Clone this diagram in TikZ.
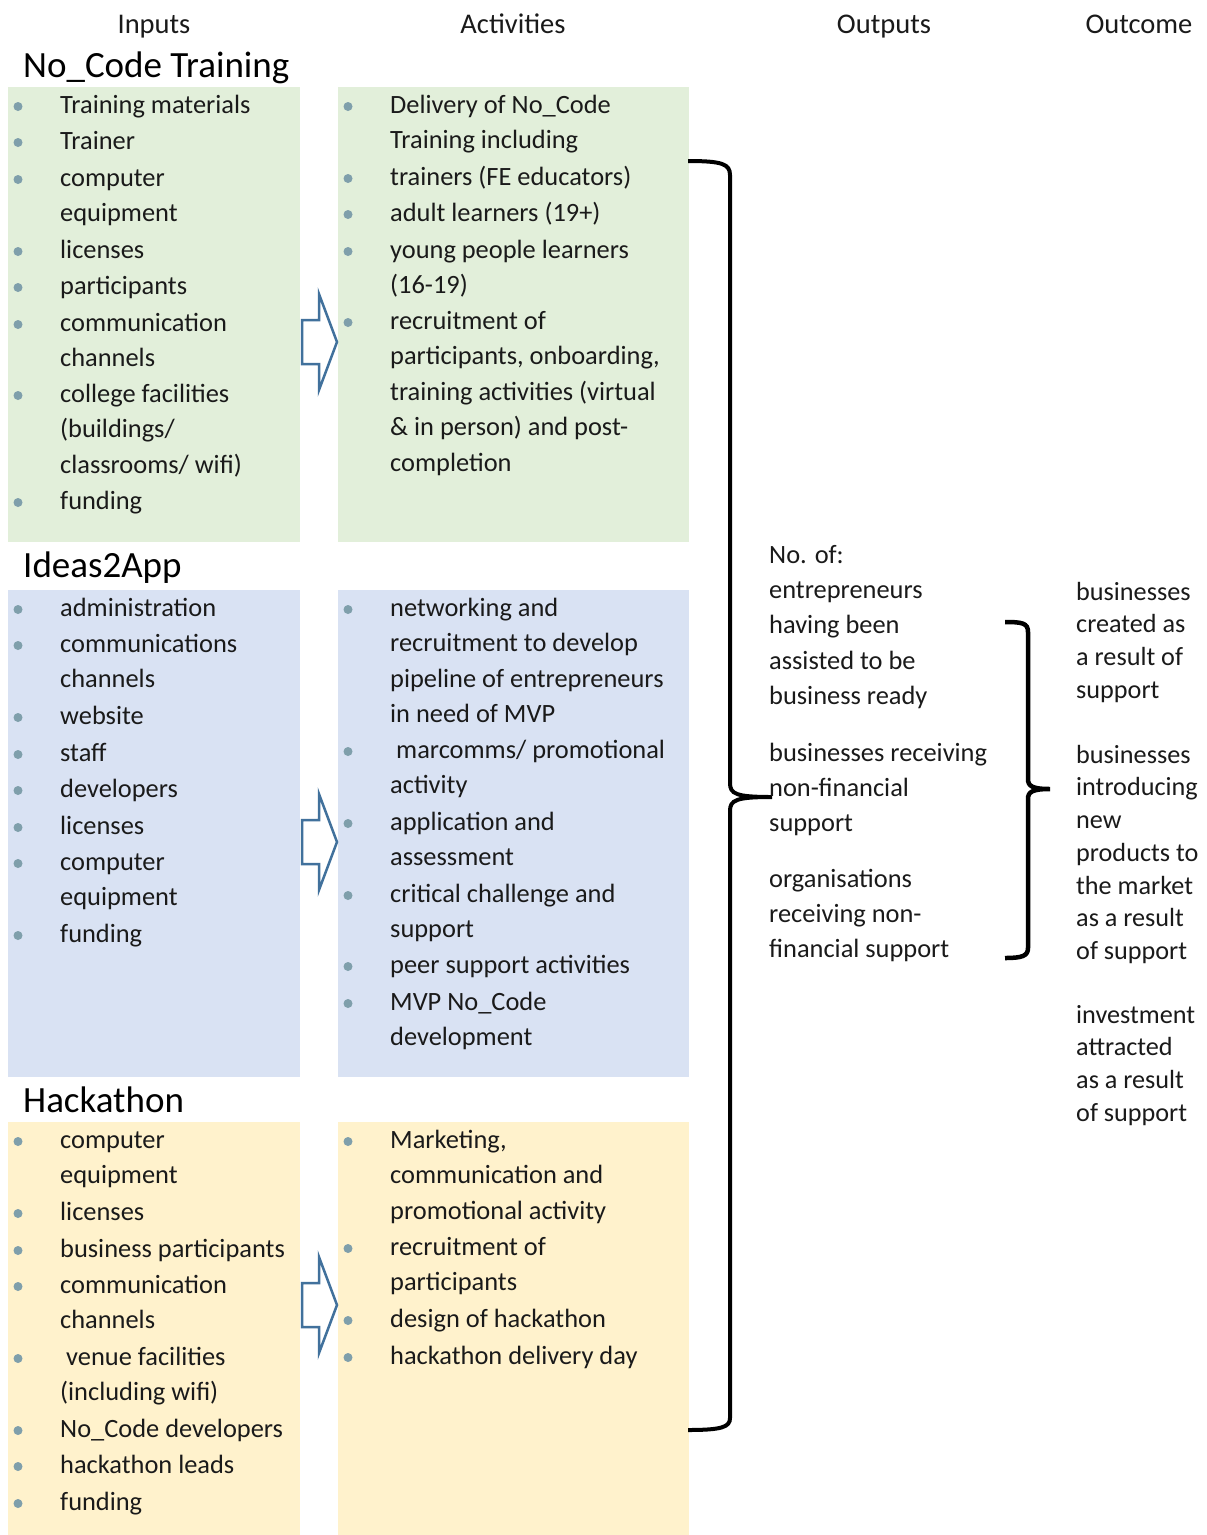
\documentclass[tikz,border=0pt]{standalone}
\usepackage{fontspec}
\setmainfont{Carlito}
\usetikzlibrary{positioning}

\definecolor{nocodegreen}{HTML}{E2EFDA}
\definecolor{ideasblue}{HTML}{D9E2F3}
\definecolor{hackyellow}{HTML}{FFF2CC}
\definecolor{bulletgray}{HTML}{7F9FAB}
\definecolor{arrowblue}{HTML}{41719C}
\definecolor{txt}{HTML}{1A1A1A}

\tikzset{
  colhead/.style={anchor=base, inner sep=0pt, text=txt, font=\fontsize{28.5}{34}\selectfont},
  section/.style={anchor=base west, inner sep=0pt, text=black, font=\fontsize{37}{44}\selectfont},
  panel/.style={anchor=north west, inner sep=0pt, draw=none},
  bul/.style={circle, fill=bulletgray, inner sep=0pt, minimum size=9pt},
  entry/.style={anchor=north west, inner sep=0pt, align=left, text=txt, font=\fontsize{26.4}{35.5}\selectfont},
  outtext/.style={anchor=north west, inner sep=0pt, align=left, text=txt, font=\fontsize{26.4}{35.3}\selectfont},
  outctext/.style={anchor=north west, inner sep=0pt, align=left, text=txt, font=\fontsize{26.2}{32.7}\selectfont},
  blockarrow/.style={draw=arrowblue, line width=2.5pt, line join=miter},
  bracket/.style={draw=black, line width=4pt}
}

\begin{document}
\begin{tikzpicture}[x=1pt, y=-1pt]

% Canvas
\fill[white] (0,0) rectangle (1207,1535);
\useasboundingbox (0,0) rectangle (1207,1535);

% Column headers
\node[colhead] (hinputs) at (154,33) {Inputs};
\node[colhead] (hactivities) at (513,33) {Activities};
\node[colhead] (houtputs) at (884,33) {Outputs};
\node[colhead] (houtcome) at (1139,33) {Outcome};

% Section titles
\node[section] (tnocode) at (23,77) {No\_Code Training};
\node[section] (tideas) at (23,577) {Ideas2App};
\node[section] (thack) at (23,1112) {Hackathon};

% Coloured panels
\node[panel, fill=nocodegreen, minimum width=292pt, minimum height=455pt] (ncin) at (8,87) {};
\node[panel, fill=nocodegreen, minimum width=351pt, minimum height=455pt] (ncact) at (338,87) {};
\node[panel, fill=ideasblue, minimum width=292pt, minimum height=487pt] (idin) at (8,590) {};
\node[panel, fill=ideasblue, minimum width=351pt, minimum height=487pt] (idact) at (338,590) {};
\node[panel, fill=hackyellow, minimum width=292pt, minimum height=413pt] (hkin) at (8,1122) {};
\node[panel, fill=hackyellow, minimum width=351pt, minimum height=413pt] (hkact) at (338,1122) {};

% No_Code Training: inputs
\foreach \y/\t [count=\i] in {113/{Training materials}, 149/{Trainer}, 186/{computer\\equipment},
    258/{licenses}, 294/{participants}, 331/{communication\\channels},
    402/{college facilities\\(buildings/\\classrooms/ wifi)}, 509/{funding}} {
  \node[bul] (ncinb\i) at (18,\y-6.5) {};
  \node[entry] (ncin\i) at (60,\y-24.85) {\strut\t};
}

% No_Code Training: activities
\foreach \y/\t [count=\i] in {113/{Delivery of No\_Code\\Training including}, 185/{trainers (FE educators)},
    221/{adult learners (19+)}, 258/{young people learners\\(16-19)},
    329/{recruitment of\\participants, onboarding,\\training activities (virtual\\\& in person) and post-\\completion}} {
  \node[bul] (ncactb\i) at (348,\y-6.5) {};
  \node[entry] (ncact\i) at (390,\y-24.85) {\strut\t};
}

% Ideas2App: inputs
\foreach \y/\t [count=\i] in {616/{administration}, 652/{communications\\channels}, 724/{website},
    761/{staff}, 797/{developers}, 834/{licenses}, 870/{computer\\equipment}, 942/{funding}} {
  \node[bul] (idinb\i) at (18,\y-6.5) {};
  \node[entry] (idin\i) at (60,\y-24.85) {\strut\t};
}

% Ideas2App: activities
\foreach \y/\t [count=\i] in {616/{networking and\\recruitment to develop\\pipeline of entrepreneurs\\in need of MVP},
    758/{\hspace{6pt}marcomms/ promotional\\activity}, 830/{application and\\assessment},
    902/{critical challenge and\\support}, 973/{peer support activities}, 1010/{MVP No\_Code\\development}} {
  \node[bul] (idactb\i) at (348,\y-6.5) {};
  \node[entry] (idact\i) at (390,\y-24.85) {\strut\t};
}

% Hackathon: inputs
\foreach \y/\t [count=\i] in {1148/{computer\\equipment}, 1220/{licenses}, 1257/{business participants},
    1293/{communication\\channels}, 1365/{\hspace{6pt}venue facilities\\(including wifi)},
    1437/{No\_Code developers}, 1473/{hackathon leads}, 1510/{funding}} {
  \node[bul] (hkinb\i) at (18,\y-6.5) {};
  \node[entry] (hkin\i) at (60,\y-24.85) {\strut\t};
}

% Hackathon: activities
\foreach \y/\t [count=\i] in {1148/{Marketing,\\communication and\\promotional activity},
    1255/{recruitment of\\participants}, 1327/{design of hackathon}, 1364/{hackathon delivery day}} {
  \node[bul] (hkactb\i) at (348,\y-6.5) {};
  \node[entry] (hkact\i) at (390,\y-24.85) {\strut\t};
}

% Block arrows inputs -> activities
\foreach \c in {342,842,1305} {
  \draw[blockarrow] (302,\c-22) -- (319,\c-22) -- (319,\c-48) -- (337,\c)
    -- (319,\c+48) -- (319,\c+22) -- (302,\c+22) -- cycle;
}

% Big bracket round all activities
\draw[bracket] (688,161) .. controls (722,161) and (730,164) .. (730,175) -- (730,783)
  .. controls (730,794) and (736,797) .. (772,797)
  .. controls (736,797) and (730,800) .. (730,811) -- (730,1418)
  .. controls (730,1427) and (722,1430) .. (688,1430);

% Outputs
\node[outtext] (outa) at (769,563-24.71) {\strut No. of:\\entrepreneurs\\having been\\assisted to be\\business ready};
\node[outtext] (outb) at (769,761-24.71) {\strut businesses receiving\\non-financial\\support};
\node[outtext] (outc) at (769,887-24.71) {\strut organisations\\receiving non-\\financial support};

% Small bracket round outputs
\draw[bracket, line width=4.5pt] (1005,622) .. controls (1022,622) and (1028,623) .. (1028,632) -- (1028,779)
  .. controls (1028,786) and (1032,789) .. (1050,789)
  .. controls (1032,789) and (1028,792) .. (1028,799) -- (1028,948)
  .. controls (1028,956) and (1022,958) .. (1005,958);

% Outcome
\node[outctext] (outca) at (1076,600-22.89) {\strut businesses\\created as\\a result of\\support};
\node[outctext] (outcb) at (1076,763-22.89) {\strut businesses\\introducing\\new\\products to\\the market\\as a result\\of support};
\node[outctext] (outcc) at (1076,1023-22.89) {\strut investment\\attracted\\as a result\\of support};

\end{tikzpicture}
\end{document}
